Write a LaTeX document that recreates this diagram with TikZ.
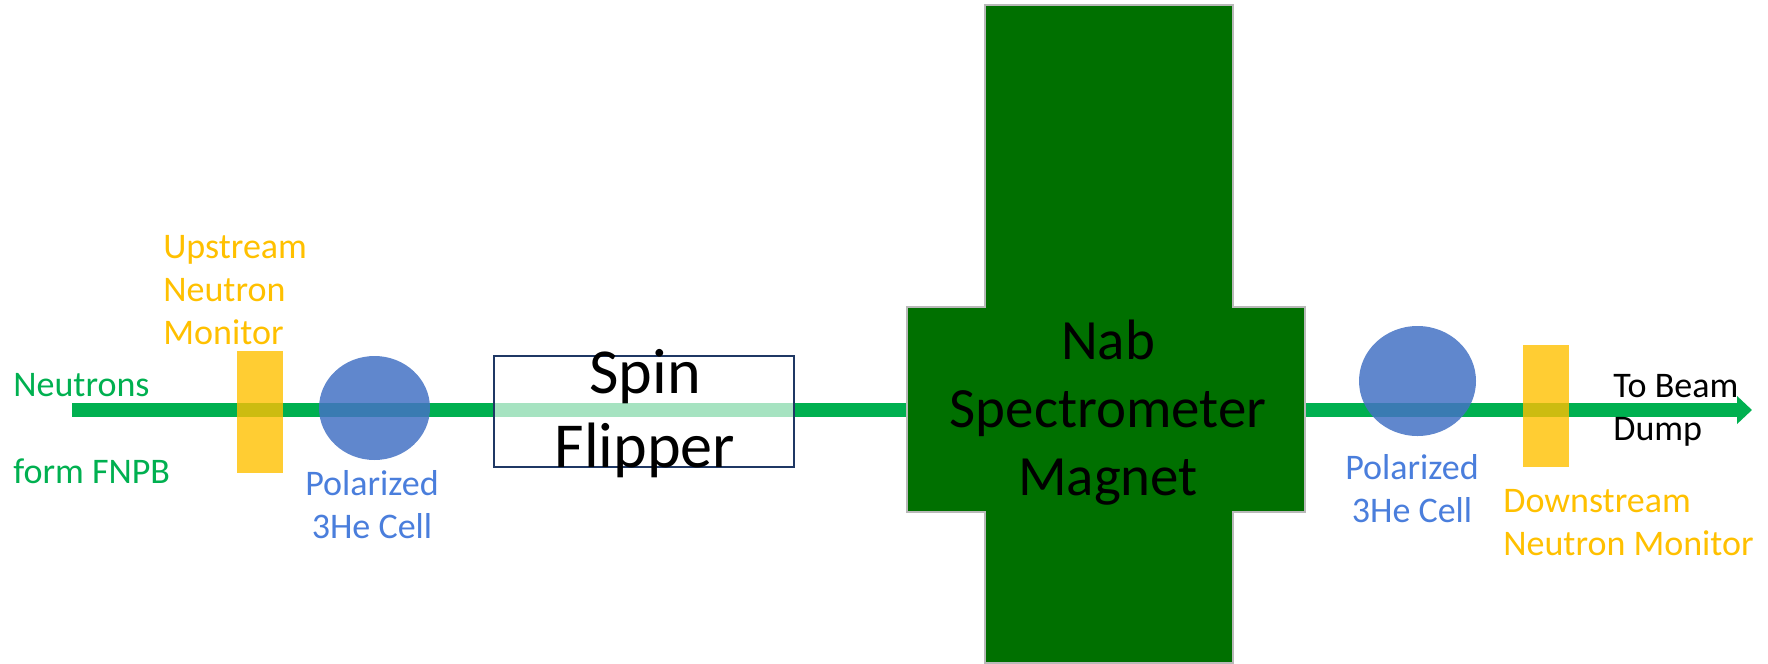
\documentclass[tikz,border=0pt]{standalone}
\usepackage{fontspec}
\setmainfont{Carlito}
\usetikzlibrary{arrows.meta,shapes.geometric}
\newlength{\unitpx}
\setlength{\unitpx}{0.02cm}
\definecolor{beamgreen}{HTML}{00B050}
\definecolor{magnetgreen}{HTML}{007000}
\definecolor{monitoryellow}{HTML}{FFC000}
\definecolor{cellblue}{HTML}{4472C4}
\definecolor{labelblue}{HTML}{4A7EDC}
\definecolor{flipperblue}{HTML}{1F3864}

\begin{document}
\begin{tikzpicture}[x=\unitpx,y=-\unitpx, every node/.style={inner sep=0pt},
  small/.style={font=\fontsize{20.5}{24.2}\selectfont},
  big/.style={font=\fontsize{32.4}{38.7}\selectfont,align=center},
  beam/.style={line width=8.3pt,draw=beamgreen,
               -{Triangle[length=8.5pt,width=15.4pt]}},
  monitor/.style={fill=monitoryellow,fill opacity=0.8,
                  minimum width=46\unitpx,minimum height=122\unitpx},
  cell/.style={ellipse,fill=cellblue,fill opacity=0.85},
  magnet/.style={fill=magnetgreen,draw=gray!55,line width=0.6pt}]
 \useasboundingbox (0,0) rectangle (1768,663);
 % beam line
 \coordinate (beamstart) at (72,410);
 \coordinate (beamend) at (1752,410);
 \draw[beam] (beamstart) -- (beamend);
 % spectrometer magnet
 \path[magnet] (985,5) -- (1233,5) -- (1233,307) -- (1305,307)
   -- (1305,512) -- (1233,512) -- (1233,663) -- (985,663) -- (985,512)
   -- (907,512) -- (907,307) -- (985,307) -- cycle;
 \node[big] (magnetlabel) at (1108,495) [anchor=base]
   {Nab\\Spectrometer\\Magnet};
 % monitors and cells
 \node[monitor] (upmonitor) at (260,411.5) {};
 \node[monitor] (downmonitor) at (1546,405.5) {};
 \node[cell,minimum width=111\unitpx,minimum height=104\unitpx] (cellA)
   at (374.5,408) {};
 \node[cell,minimum width=117\unitpx,minimum height=110\unitpx] (cellB)
   at (1417.5,381) {};
 % spin flipper
 \node[draw=flipperblue,line width=0.85pt,fill=white,fill opacity=0.65,
   minimum width=300\unitpx,minimum height=111\unitpx] (flipper)
   at (644,411.5) {};
 \node[big,font=\fontsize{36.5}{42}\selectfont,anchor=base]
   (flipperlabel) at (645,467) {Spin\\Flipper};
 % labels
 \node[small,text=beamgreen,anchor=base west] (neutrons) at (13,396)
   {Neutrons};
 \node[small,text=beamgreen,anchor=base west] (source) at (13,483)
   {form FNPB};
 \node[small,text=monitoryellow,align=left,anchor=base west] (uplabel)
   at (163,344) {Upstream\\Neutron\\Monitor};
 \node[small,text=labelblue,align=center,anchor=base] (cellAlabel)
   at (372,538) {Polarized\\3He Cell};
 \node[small,text=labelblue,align=center,anchor=base] (cellBlabel)
   at (1412,522) {Polarized\\3He Cell};
 \node[small,text=monitoryellow,align=left,anchor=base west] (downlabel)
   at (1503,555) {Downstream\\Neutron Monitor};
 \node[small,align=left,anchor=base west] (dumplabel) at (1613,440)
   {To Beam\\Dump};
\end{tikzpicture}
\end{document}
